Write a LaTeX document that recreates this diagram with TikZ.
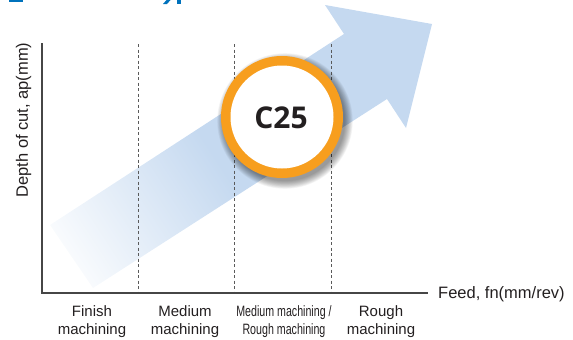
\documentclass[tikz,border=0pt]{standalone}
\usepackage{fontspec}
\setmainfont{Liberation Sans}
\newfontfamily\cfont{Open Sans}
\definecolor{arrowblue}{RGB}{197,217,240}
\definecolor{ringorange}{RGB}{247,158,30}
\definecolor{txt}{RGB}{35,31,32}
\definecolor{axisgray}{RGB}{70,70,70}
\definecolor{dashgray}{RGB}{90,90,90}
\definecolor{headblue}{RGB}{0,114,188}
\pgfdeclarehorizontalshading{arrowfade}{100bp}{color(0bp)=(white); color(17bp)=(white); color(46bp)=(arrowblue); color(100bp)=(arrowblue)}
\tikzset{
  axisline/.style={draw=axisgray, line width=1.1pt},
  divline/.style={draw=dashgray, line width=0.7pt, dash pattern=on 3pt off 2.5pt},
  catlabel/.style={text=txt, font=\fontsize{15}{18}\selectfont, align=center, inner sep=0pt},
  axislabel/.style={text=txt, font=\fontsize{16.5}{19}\selectfont, inner sep=0pt},
  ringouter/.style={circle, fill=ringorange, minimum size=122pt, inner sep=0pt},
  ringinner/.style={circle, fill=white, minimum size=103pt, inner sep=0pt},
  badgeshadow/.style={fill=black, fill opacity=0.035},
}
\begin{document}
\begin{tikzpicture}[x=1pt,y=-1pt]
\useasboundingbox (0,0) rectangle (573,340);
% cropped heading fragments
\fill[headblue] (9,0) rectangle (23,1.5);
\fill[headblue] (163,4) -- (167,4) -- (170.5,0) -- (166.5,0) -- cycle;
\fill[headblue] (177,0) rectangle (181,4);
% big arrow
\coordinate (t1) at (50,225);
\coordinate (n1) at (344,34);
\coordinate (b1) at (325,5);
\coordinate (tip) at (432,24);
\coordinate (b2) at (406,128);
\coordinate (n2) at (387,99);
\coordinate (t2) at (93,288);
\shade[shading=arrowfade, shading angle=33] (t1) -- (n1) -- (b1) -- (tip) -- (b2) -- (n2) -- (t2) -- cycle;
% divider lines
\coordinate (d1t) at (138,44); \coordinate (d1b) at (138,293);
\coordinate (d2t) at (234,44); \coordinate (d2b) at (234,293);
\coordinate (d3t) at (331,44); \coordinate (d3b) at (331,293);
\draw[divline] (d1t) -- (d1b);
\draw[divline] (d2t) -- (d2b);
\draw[divline] (d3t) -- (d3b);
% axes
\coordinate (ytop) at (42,43);
\coordinate (org) at (42,293);
\coordinate (xend) at (428,293);
\draw[axisline] (ytop) -- (org) -- (xend);
% axis labels
\node[axislabel, anchor=west] (xlab) at (438,294) {Feed, fn(mm/rev)};
\node[axislabel, rotate=90] (ylab) at (23.5,120) {Depth of cut, ap(mm)};
% category labels
\node[catlabel] (c1) at (92,321.5) {Finish\\machining};
\node[catlabel] (c2) at (185,321.5) {Medium\\machining};
\node[catlabel] (c3) at (284,321.5) {\scalebox{0.71}[1]{Medium machining /}\\\scalebox{0.71}[1]{Rough machining}};
\node[catlabel] (c4) at (381,321.5) {Rough\\machining};
% C25 badge with soft shadow
\coordinate (shc) at (285,121);
\foreach \r in {60,60.6,...,68.4} {\fill[badgeshadow] (shc) circle (\r);}
\node[ringouter] (badge) at (282,117) {};
\node[ringinner] (badgein) at (badge.center) {};
\node[text=txt, font=\cfont\bfseries\fontsize{30}{30}\selectfont, inner sep=0pt] (c25) at (281,118) {C25};
\end{tikzpicture}
\end{document}
